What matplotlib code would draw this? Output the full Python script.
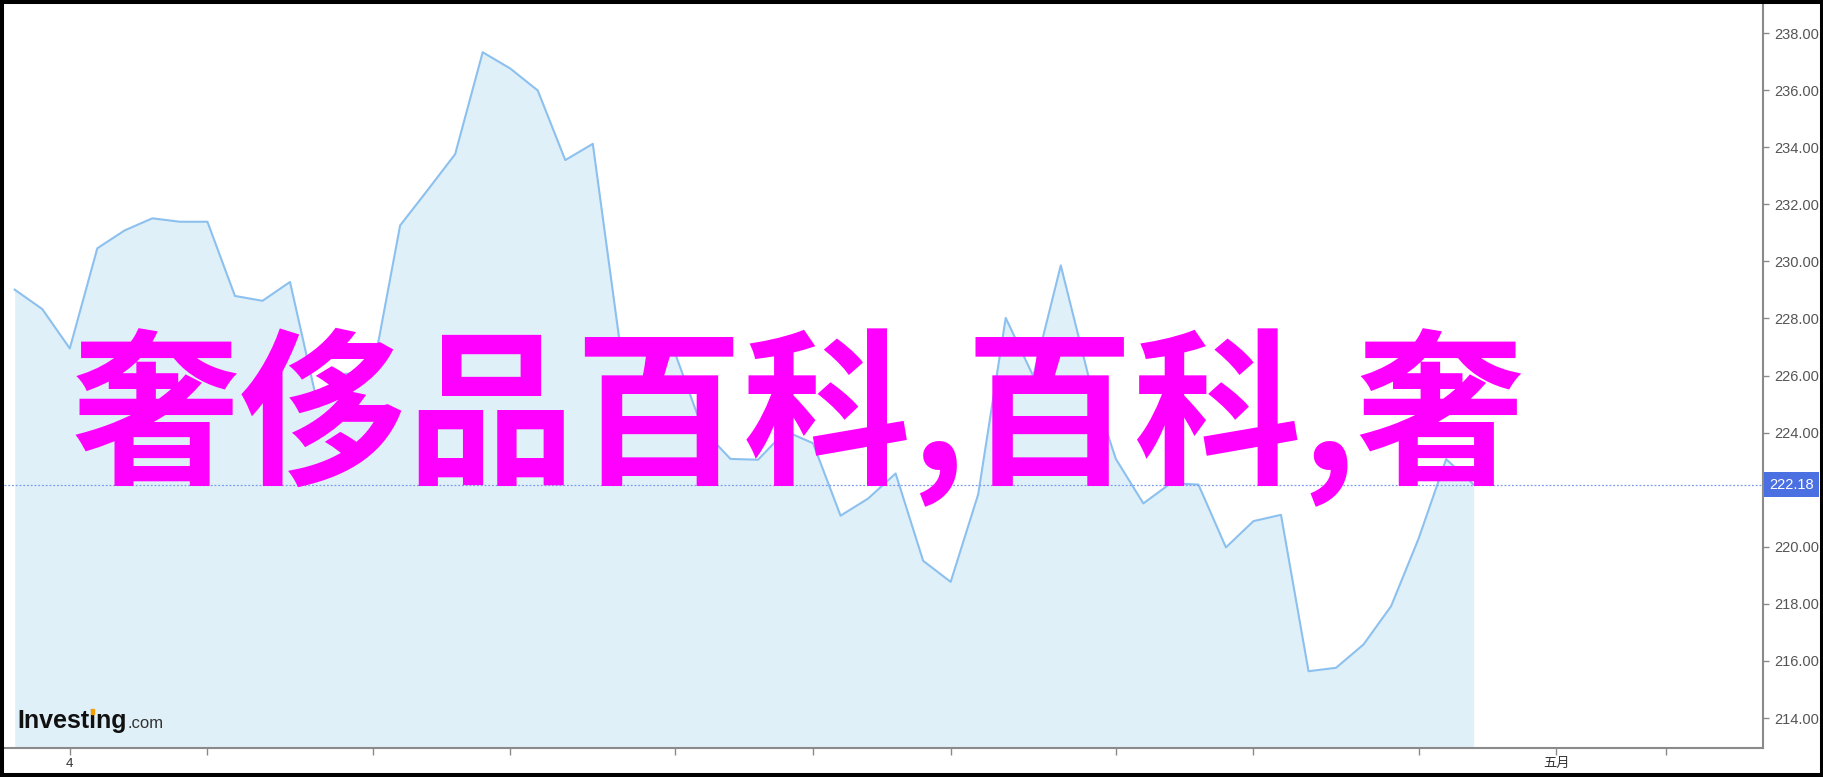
"""Investing.com style area chart with a magenta caption over it."""
import matplotlib
matplotlib.use("Agg")
import matplotlib.pyplot as plt
from matplotlib.patches import Rectangle
from matplotlib.transforms import blended_transform_factory

# daily closes
prices = [
    229.01, 228.33, 226.95, 230.46, 231.09, 231.51, 231.39, 231.39, 228.79, 228.62,
    229.28, 225.00, 226.06, 226.10, 231.26, 232.50, 233.76, 237.33, 236.76, 235.99,
    233.55, 234.12, 227.00, 227.00, 226.75, 224.10, 223.08, 223.05, 224.05, 223.63,
    221.09, 221.69, 222.57, 219.51, 218.77, 221.84, 228.02, 225.98, 229.86, 226.00,
    223.08, 221.52, 222.23, 222.18, 219.98, 220.90, 221.12, 215.64, 215.76, 216.58,
    217.92, 220.29, 223.07, 222.18,
]
last_price = 222.18
# 222.00 is hidden behind the price flag
y_ticks = [214, 216, 218, 220, 224, 226, 228, 230, 232, 234, 236, 238]
x_tick_positions = [2, 7, 13, 18, 24, 29, 34, 40, 45, 51, 56, 60]
x_tick_labels = ["4", "", "", "", "", "", "", "", "", "", "五月", ""]
caption = "奢侈品百科,百科,奢"

LINE_COLOR = "#8cc0ee"
FILL_COLOR = "#e0f0f9"
AXIS_COLOR = "#8a8a8a"
TEXT_COLOR = "#555555"
MARK_COLOR = "#4b70e2"

W, H, DPI = 1824, 777, 100


def px_box(left, top, right, bottom):
    """Axes rectangle from pixel edges."""
    return [left / W, 1 - bottom / H, (right - left) / W, (bottom - top) / H]


def text_width(fig, renderer, s, **kw):
    """Pixel width of a string drawn with the given text options."""
    t = fig.text(0, 0, s, **kw)
    w = t.get_window_extent(renderer).width
    t.remove()
    return w


fig = plt.figure(figsize=(W / DPI, H / DPI), dpi=DPI)
ax = fig.add_axes(px_box(4, 4, 1763, 748))

x = list(range(len(prices)))
ymin, ymax = 212.95, 239.02
ax.fill_between(x, prices, ymin, color=FILL_COLOR, linewidth=0)
ax.plot(x, prices, color=LINE_COLOR, linewidth=1.5)
ax.axhline(last_price, color="#7b9bec", linewidth=0.9, linestyle=(0, (1.5, 1.5)))

ax.set_xlim(-0.39, 63.51)
ax.set_ylim(ymin, ymax)

for side in ("top", "left"):
    ax.spines[side].set_visible(False)
for side in ("bottom", "right"):
    ax.spines[side].set_color(AXIS_COLOR)
    ax.spines[side].set_linewidth(1.5)

ax.yaxis.tick_right()
ax.set_yticks(y_ticks)
ax.set_yticklabels([f"{v:.2f}" for v in y_ticks])
ax.tick_params(axis="y", direction="out", length=4, width=1, color=AXIS_COLOR,
               labelsize=10.5, labelcolor=TEXT_COLOR, pad=4)
ax.set_xticks(x_tick_positions)
ax.set_xticklabels(x_tick_labels)
ax.tick_params(axis="x", direction="out", length=5, width=1, color=AXIS_COLOR,
               labelsize=9.5, labelcolor="#333333", pad=2)
for lbl in ax.get_yticklabels():
    lbl.set_family(["Liberation Sans", "DejaVu Sans"])
for lbl in ax.get_xticklabels():
    lbl.set_family(["Liberation Sans", "Noto Sans CJK SC"])

# current price flag on the right axis
trans = blended_transform_factory(ax.transAxes, ax.transData)
ax.text(1.0035, last_price, f"{last_price:.2f}", transform=trans, ha="left", va="center",
        fontsize=10.5, color="white", family="Liberation Sans",
        bbox=dict(boxstyle="square,pad=0.38", fc=MARK_COLOR, ec="none"), clip_on=False)

# watermark logo
renderer = fig.canvas.get_renderer()
logo_kw = dict(fontsize=18, fontweight="bold", family="Liberation Sans")
logo_x, logo_base = 17, 728
logo = fig.text(logo_x / W, 1 - logo_base / H, "Investing", color="#111111",
                va="baseline", ha="left", **logo_kw)
logo_right = logo.get_window_extent(renderer).x1
fig.text((logo_right + 1) / W, 1 - logo_base / H, ".com", fontsize=12, color="#333333",
         family="Liberation Sans", va="baseline", ha="left")
# orange dot over the "i"
i_left = logo_x + text_width(fig, renderer, "Invest", **logo_kw)
i_right = logo_x + text_width(fig, renderer, "Investi", **logo_kw)
fig.patches.append(Rectangle(((i_left + 1.5) / W, 1 - (logo_base - 14) / H),
                             (i_right - i_left - 3) / W, 5 / H,
                             transform=fig.transFigure, color="#f5a000", zorder=5))

# big caption
fig.text(798 / W, 1 - 418 / H, caption, fontsize=121, fontweight="bold",
         color="#ff00ff", family=["Noto Sans CJK SC", "DejaVu Sans"],
         ha="center", va="center")

# black frame round the picture
fig.patches.append(Rectangle((0, 0), 1, 1, transform=fig.transFigure, fill=False,
                             edgecolor="black", linewidth=5.8))

fig.savefig("out.png", dpi=DPI)
